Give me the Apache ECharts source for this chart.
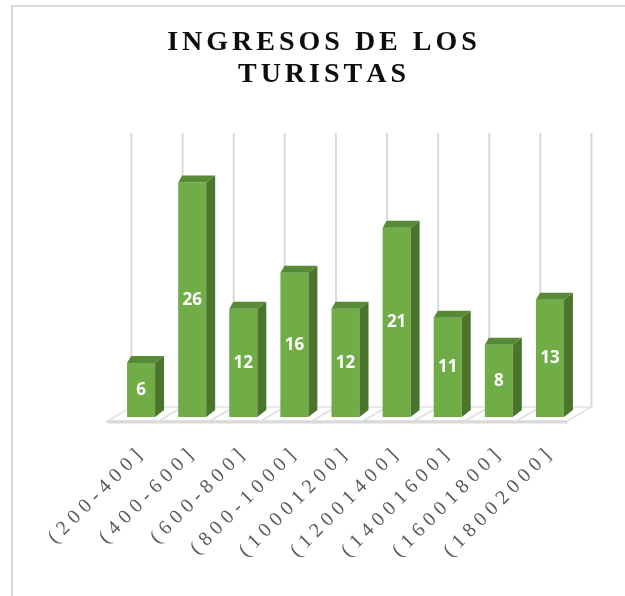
<!DOCTYPE html>
<html>
<head>
<meta charset="utf-8">
<script src="https://cdn.jsdelivr.net/npm/echarts@6/dist/echarts.min.js"></script>
<style>
html, body { margin: 0; padding: 0; background: #fff; }
#chart { width: 625px; height: 596px; }
</style>
</head>
<body>
<div id="chart"></div>
<script>
// data
var categories = ['(200-400]', '(400-600]', '(600-800]', '(800-1000]', '(10001200]',
                  '(12001400]', '(14001600]', '(16001800]', '(18002000]'];
var turistas = [6, 26, 12, 16, 12, 21, 11, 8, 13];
var titleLines = ['INGRESOS DE LOS', 'TURISTAS'];
var yMax = 31.5;

// every char in its own rich token so it gets padding (= letter spacing)
function spaced(str) {
  return String(str).split('').map(function (c) { return '{s|' + c + '}'; }).join('');
}

var seriesData = turistas.map(function (v, i) { return [categories[i], v]; });

// back wall lines + floor of the 3d box
function renderFloor(params, api) {
  var i = api.value(0);
  var base = api.coord([i, 0]);
  var topY = api.coord([i, yMax])[1];
  var bw = api.size([1, 0])[0];
  var cx = base[0], y0 = base[1];
  var backY = y0 - bw * 0.196, frontY = y0 + bw * 0.078;
  var bl = cx - bw * 0.188, fl = cx - bw * 0.656;
  var wall = { stroke: '#d9d9d9', lineWidth: 2 };
  var kids = [
    { type: 'line', shape: { x1: bl, y1: topY, x2: bl, y2: backY }, style: wall },
    { type: 'polygon', shape: { points: [[bl, backY], [bl + bw, backY], [fl + bw, frontY], [fl, frontY]] },
      style: { fill: 'none', stroke: '#e2e2e2', lineWidth: 1.5 } },
    { type: 'rect', shape: { x: fl, y: frontY - 0.5, width: bw, height: 3 }, style: { fill: '#d9d9d9' } }
  ];
  if (i === categories.length - 1) {
    kids.push({ type: 'line', shape: { x1: bl + bw, y1: topY, x2: bl + bw, y2: backY }, style: wall });
  }
  return { type: 'group', children: kids };
}

// 3d column: front, side, top + value
function renderBar(params, api) {
  var i = api.value(0), v = api.value(1);
  var base = api.coord([i, 0]);
  var top = api.coord([i, v]);
  var bw = api.size([1, 0])[0];
  var half = bw * 0.274, dx = bw * 0.176, dy = bw * 0.137;
  var L = base[0] - half, R = base[0] + half, y0 = base[1], y1 = top[1];
  return {
    type: 'group',
    children: [
      { type: 'rect', shape: { x: L, y: y1, width: R - L, height: y0 - y1 }, style: { fill: '#70ad47' } },
      { type: 'polygon', shape: { points: [[R, y0], [R, y1], [R + dx, y1 - dy], [R + dx, y0 - dy]] },
        style: { fill: '#4b752c' } },
      { type: 'polygon', shape: { points: [[L, y1], [R, y1], [R + dx, y1 - dy], [L + bw * 0.08, y1 - dy]] },
        style: { fill: '#578a36' } },
      { type: 'text', style: { text: String(v), x: base[0], y: (y0 + y1) / 2, align: 'center',
        verticalAlign: 'middle', fill: '#ffffff', font: 'bold 17px "Noto Sans"' } }
    ]
  };
}

var myChart = echarts.init(document.getElementById('chart'));
var option = {
  animation: false,
  backgroundColor: '#ffffff',
  title: {
    text: titleLines.map(spaced).join('\n'),
    left: 322,
    top: 27,
    padding: 0,
    textAlign: 'center',
    textStyle: {
      rich: {
        s: { fontFamily: 'Liberation Serif', fontWeight: 'bold', fontSize: 28, color: '#0d0d0d',
             padding: [0, 2, 0, 2], lineHeight: 32 }
      }
    }
  },
  graphic: [{
    type: 'polyline', silent: true,
    shape: { points: [[12, 596], [12, 6], [625, 6]] },
    style: { stroke: '#d9d9d9', lineWidth: 2, fill: 'none' }
  }],
  grid: { left: 115.5, right: 49.5, top: 133, bottom: 179, outerBoundsMode: 'none' },
  xAxis: {
    type: 'category',
    data: categories,
    axisLine: { show: false },
    axisTick: { show: false },
    splitLine: { show: false },
    axisLabel: {
      interval: 0,
      rotate: 45,
      margin: 34,
      formatter: function (val) { return spaced(val); },
      rich: {
        s: { fontFamily: 'Liberation Serif', fontSize: 20, color: '#595959', padding: [0, 2.75, 0, 2.75] }
      }
    }
  },
  yAxis: { type: 'value', min: 0, max: yMax, show: false },
  series: [
    { type: 'custom', z: 1, renderItem: renderFloor, data: seriesData },
    { type: 'custom', z: 2, renderItem: renderBar, data: seriesData }
  ]
};
myChart.setOption(option);
</script>
</body>
</html>
